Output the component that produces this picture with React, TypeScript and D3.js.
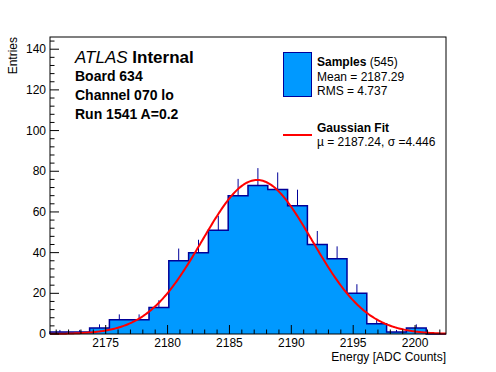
import React, { useEffect, useRef } from 'react';
import * as d3 from 'd3';

// histogram bins (edges) and entries
const binEdges = [
  2170.5, 2172.1, 2173.7, 2175.3, 2176.9, 2178.5, 2180.1, 2181.7, 2183.3, 2184.9, 2186.5,
  2188.1, 2189.7, 2191.3, 2192.9, 2194.5, 2196.1, 2197.7, 2199.3, 2200.9, 2202.5
];
const counts = [1, 1, 3, 7, 7, 13, 36, 40, 51, 68, 73, 71, 63, 44, 37, 20, 5, 1, 3, 0];

// gaussian fit parameters
const fitMu = 2187.24;
const fitSigma = 4.446;
const fitAmp = 75.7;

const xTicks = [2175, 2180, 2185, 2190, 2195, 2200];
const yTicks = [0, 20, 40, 60, 80, 100, 120, 140];

const infoLines = ['Board 634', 'Channel 070 lo', 'Run 1541 A=0.2'];

const FONT = '"Liberation Sans", Arial, Helvetica, sans-serif';
const FILL = '#0099ff';
const LINE = '#000099';

const App = () => {
  const svgRef = useRef<SVGSVGElement>(null);

  useEffect(() => {
    const svg = d3.select(svgRef.current);
    svg.selectAll('*').remove();

    const left = 50, right = 446, top = 37, bottom = 334;
    const x = d3.scaleLinear().domain([2170.5, 2202.5]).range([left, right]);
    const y = d3.scaleLinear().domain([0, 146]).range([bottom, top]);

    const bins = counts.map((c, i) => ({ x0: binEdges[i], x1: binEdges[i + 1], c }));

    // error bars (lower half gets covered by the fill)
    svg
      .append('g')
      .selectAll('line')
      .data(bins.filter((b) => b.c > 0))
      .join('line')
      .attr('x1', (d) => x((d.x0 + d.x1) / 2))
      .attr('x2', (d) => x((d.x0 + d.x1) / 2))
      .attr('y1', (d) => y(d.c - Math.sqrt(d.c)))
      .attr('y2', (d) => y(d.c + Math.sqrt(d.c)))
      .attr('stroke', LINE)
      .attr('stroke-width', 1);

    // stepped outline points
    const steps: [number, number][] = [[binEdges[0], 0]];
    bins.forEach((b) => {
      steps.push([b.x0, b.c]);
      steps.push([b.x1, b.c]);
    });
    steps.push([binEdges[binEdges.length - 1], 0]);
    const stepLine = d3
      .line<[number, number]>()
      .x((d) => x(d[0]))
      .y((d) => y(d[1]));

    // filled histogram
    svg
      .append('path')
      .attr('d', stepLine(steps) + 'Z')
      .attr('fill', FILL)
      .attr('stroke', 'none');

    // outline
    svg
      .append('path')
      .attr('d', stepLine(steps))
      .attr('fill', 'none')
      .attr('stroke', LINE)
      .attr('stroke-width', 1.5);

    // gaussian fit
    const fitPts = d3.range(2170.5, 2202.5 + 0.01, 0.1).map((v) => [
      v,
      fitAmp * Math.exp(-((v - fitMu) ** 2) / (2 * fitSigma * fitSigma))
    ]) as [number, number][];
    svg
      .append('path')
      .attr('d', stepLine(fitPts))
      .attr('fill', 'none')
      .attr('stroke', '#ff0000')
      .attr('stroke-width', 2);

    // frame
    svg
      .append('rect')
      .attr('x', left)
      .attr('y', top)
      .attr('width', right - left)
      .attr('height', bottom - top)
      .attr('fill', 'none')
      .attr('stroke', 'black')
      .attr('stroke-width', 1);

    // x ticks
    const gx = svg.append('g');
    gx.selectAll('line.minor')
      .data(d3.range(2171, 2203, 1))
      .join('line')
      .attr('x1', (d) => x(d))
      .attr('x2', (d) => x(d))
      .attr('y1', bottom)
      .attr('y2', (d) => (d % 5 === 0 ? bottom - 9 : bottom - 4.5))
      .attr('stroke', 'black');
    gx.selectAll('text')
      .data(xTicks)
      .join('text')
      .attr('x', (d) => x(d))
      .attr('y', 347)
      .attr('text-anchor', 'middle')
      .style('font-family', FONT)
      .style('font-size', '12px')
      .text((d) => d);

    // y ticks
    const gy = svg.append('g');
    gy.selectAll('line')
      .data(d3.range(0, 145, 4))
      .join('line')
      .attr('x1', left)
      .attr('x2', (d) => (d % 20 === 0 ? left + 9 : left + 4.5))
      .attr('y1', (d) => y(d))
      .attr('y2', (d) => y(d))
      .attr('stroke', 'black');
    gy.selectAll('text')
      .data(yTicks)
      .join('text')
      .attr('x', 46)
      .attr('y', (d) => y(d) + 4)
      .attr('text-anchor', 'end')
      .style('font-family', FONT)
      .style('font-size', '12px')
      .text((d) => d);

    // axis titles
    svg
      .append('text')
      .attr('x', right)
      .attr('y', 361)
      .attr('text-anchor', 'end')
      .style('font-family', FONT)
      .style('font-size', '12px')
      .text('Energy [ADC Counts]');
    svg
      .append('text')
      .attr('transform', `translate(17,${top}) rotate(-90)`)
      .attr('text-anchor', 'end')
      .style('font-family', FONT)
      .style('font-size', '12px')
      .text('Entries');

    // ATLAS label
    const atlas = svg
      .append('text')
      .attr('x', 75)
      .attr('y', 63)
      .style('font-family', FONT)
      .style('font-size', '17px');
    atlas.append('tspan').style('font-style', 'italic').text('ATLAS');
    atlas.append('tspan').style('font-weight', 'bold').text(' Internal');

    svg
      .append('g')
      .selectAll('text')
      .data(infoLines)
      .join('text')
      .attr('x', 75)
      .attr('y', (d, i) => 81 + i * 19)
      .style('font-family', FONT)
      .style('font-size', '14px')
      .style('font-weight', 'bold')
      .text((d) => d);

    // legend
    const lg = svg.append('g').style('font-family', FONT).style('font-size', '12px');
    lg.append('rect')
      .attr('x', 283.5)
      .attr('y', 52.5)
      .attr('width', 28)
      .attr('height', 44)
      .attr('fill', FILL)
      .attr('stroke', LINE);
    const s = lg.append('text').attr('x', 317).attr('y', 66);
    s.append('tspan').style('font-weight', 'bold').text('Samples');
    s.append('tspan').text(' (545)');
    lg.append('text').attr('x', 317).attr('y', 81).text('Mean = 2187.29');
    lg.append('text').attr('x', 317).attr('y', 95).text('RMS = 4.737');

    lg.append('line')
      .attr('x1', 283)
      .attr('x2', 312)
      .attr('y1', 135)
      .attr('y2', 135)
      .attr('stroke', '#ff0000')
      .attr('stroke-width', 2);
    lg.append('text')
      .attr('x', 317)
      .attr('y', 132)
      .style('font-weight', 'bold')
      .text('Gaussian Fit');
    lg.append('text').attr('x', 317).attr('y', 146).text('\u00b5 = 2187.24, \u03c3 =4.446');
  }, []);

  return (
    <div>
      <svg
        ref={svgRef}
        width={496}
        height={372}
        style={{ position: 'absolute', left: 0, top: 0, background: 'white' }}
      ></svg>
    </div>
  );
};

export default App;
